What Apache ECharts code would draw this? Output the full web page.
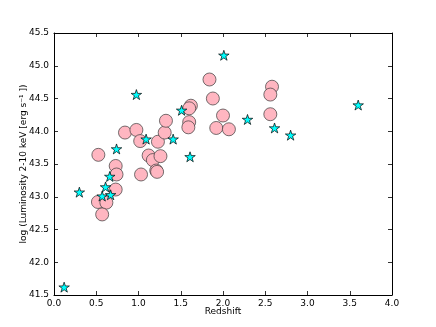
<!DOCTYPE html>
<html>
<head>
<meta charset="utf-8">
<script src="https://cdn.jsdelivr.net/npm/echarts@6/dist/echarts.min.js"></script>
<style>html,body{margin:0;padding:0;background:#fff;}#c{width:436px;height:327px;}</style>
</head>
<body>
<div id="c"></div>
<script>
var circleX = [0.525,0.73,0.74,0.73,0.52,0.62,0.57,0.84,0.975,1.02,1.03,1.12,1.17,1.21,1.22,1.23,1.26,1.31,1.325,1.84,1.88,2.58,2.56,2.56,2.00,1.92,2.07,1.62,1.60,1.60,1.59];
var circleY = [43.64,43.47,43.34,43.11,42.92,42.91,42.73,43.98,44.02,43.85,43.34,43.63,43.56,43.40,43.38,43.84,43.62,43.98,44.16,44.79,44.50,44.68,44.56,44.26,44.24,44.05,44.03,44.39,44.35,44.14,44.06];
var starX = [0.12,0.30,0.57,0.61,0.67,0.66,0.74,0.975,1.09,1.41,1.51,1.61,2.01,2.29,2.61,2.80,3.60];
var starY = [41.62,43.07,43.01,43.15,43.03,43.31,43.73,44.56,43.88,43.88,44.32,43.61,45.16,44.18,44.05,43.94,44.40];
var xTicks = [0,0.5,1,1.5,2,2.5,3,3.5,4];
var yTicks = [41.5,42,42.5,43,43.5,44,44.5,45,45.5];

function pairs(xs, ys){ return xs.map(function(x,i){ return [x, ys[i]]; }); }
var starPath = 'path://M0,-100L22.45,-30.9L95.1,-30.9L36.3,11.8L58.8,80.9L0,38.2L-58.8,80.9L-36.3,11.8L-95.1,-30.9L-22.45,-30.9Z';
var font = 'DejaVu Sans';
var tickCommon = {show:true, inside:true, length:4, lineStyle:{color:'#000', width:0.8}};
var lineCommon = {show:true, onZero:false, lineStyle:{color:'#000', width:1}};

var chart = echarts.init(document.getElementById('c'), null, {renderer:'canvas'});
chart.setOption({
  animation:false,
  backgroundColor:'#fff',
  grid:{left:54, right:44, top:33, bottom:32, containLabel:false},
  xAxis:[{
    type:'value', min:0, max:4, interval:0.5, position:'bottom',
    axisLine:lineCommon, axisTick:tickCommon, splitLine:{show:false},
    axisLabel:{color:'#000', fontFamily:font, fontSize:9, margin:4,
      formatter:function(v){ return v.toFixed(1); }},
    name:'Redshift', nameLocation:'middle', nameGap:12, nameMoveOverlap:false,
    nameTextStyle:{color:'#000', fontFamily:font, fontSize:9}
  },{
    type:'value', min:0, max:4, interval:0.5, position:'top',
    axisLine:lineCommon, axisTick:tickCommon, splitLine:{show:false},
    axisLabel:{show:false}
  }],
  yAxis:[{
    type:'value', min:41.5, max:45.5, interval:0.5, position:'left',
    axisLine:lineCommon, axisTick:tickCommon, splitLine:{show:false},
    axisLabel:{color:'#000', fontFamily:font, fontSize:9, margin:5,
      formatter:function(v){ return v.toFixed(1); }},
    name:'log (Luminosity 2-10 keV [erg s\u207B\u00B9 ])', nameLocation:'middle', nameGap:26, nameMoveOverlap:false,
    nameTextStyle:{color:'#000', fontFamily:font, fontSize:9}
  },{
    type:'value', min:41.5, max:45.5, interval:0.5, position:'right',
    axisLine:lineCommon, axisTick:tickCommon, splitLine:{show:false},
    axisLabel:{show:false}
  }],
  series:[{
    type:'scatter', xAxisIndex:0, yAxisIndex:0,
    data:pairs(circleX, circleY), symbol:'circle', symbolSize:13,
    itemStyle:{color:'#FFB6C1', borderColor:'#3a3a3a', borderWidth:0.7, opacity:1}
  },{
    type:'scatter', xAxisIndex:0, yAxisIndex:0,
    data:pairs(starX, starY), symbol:starPath, symbolKeepAspect:true, symbolSize:10.5,
    itemStyle:{color:'#00FFFF', borderColor:'#000', borderWidth:0.7, opacity:1}
  }]
});
</script>
</body>
</html>
